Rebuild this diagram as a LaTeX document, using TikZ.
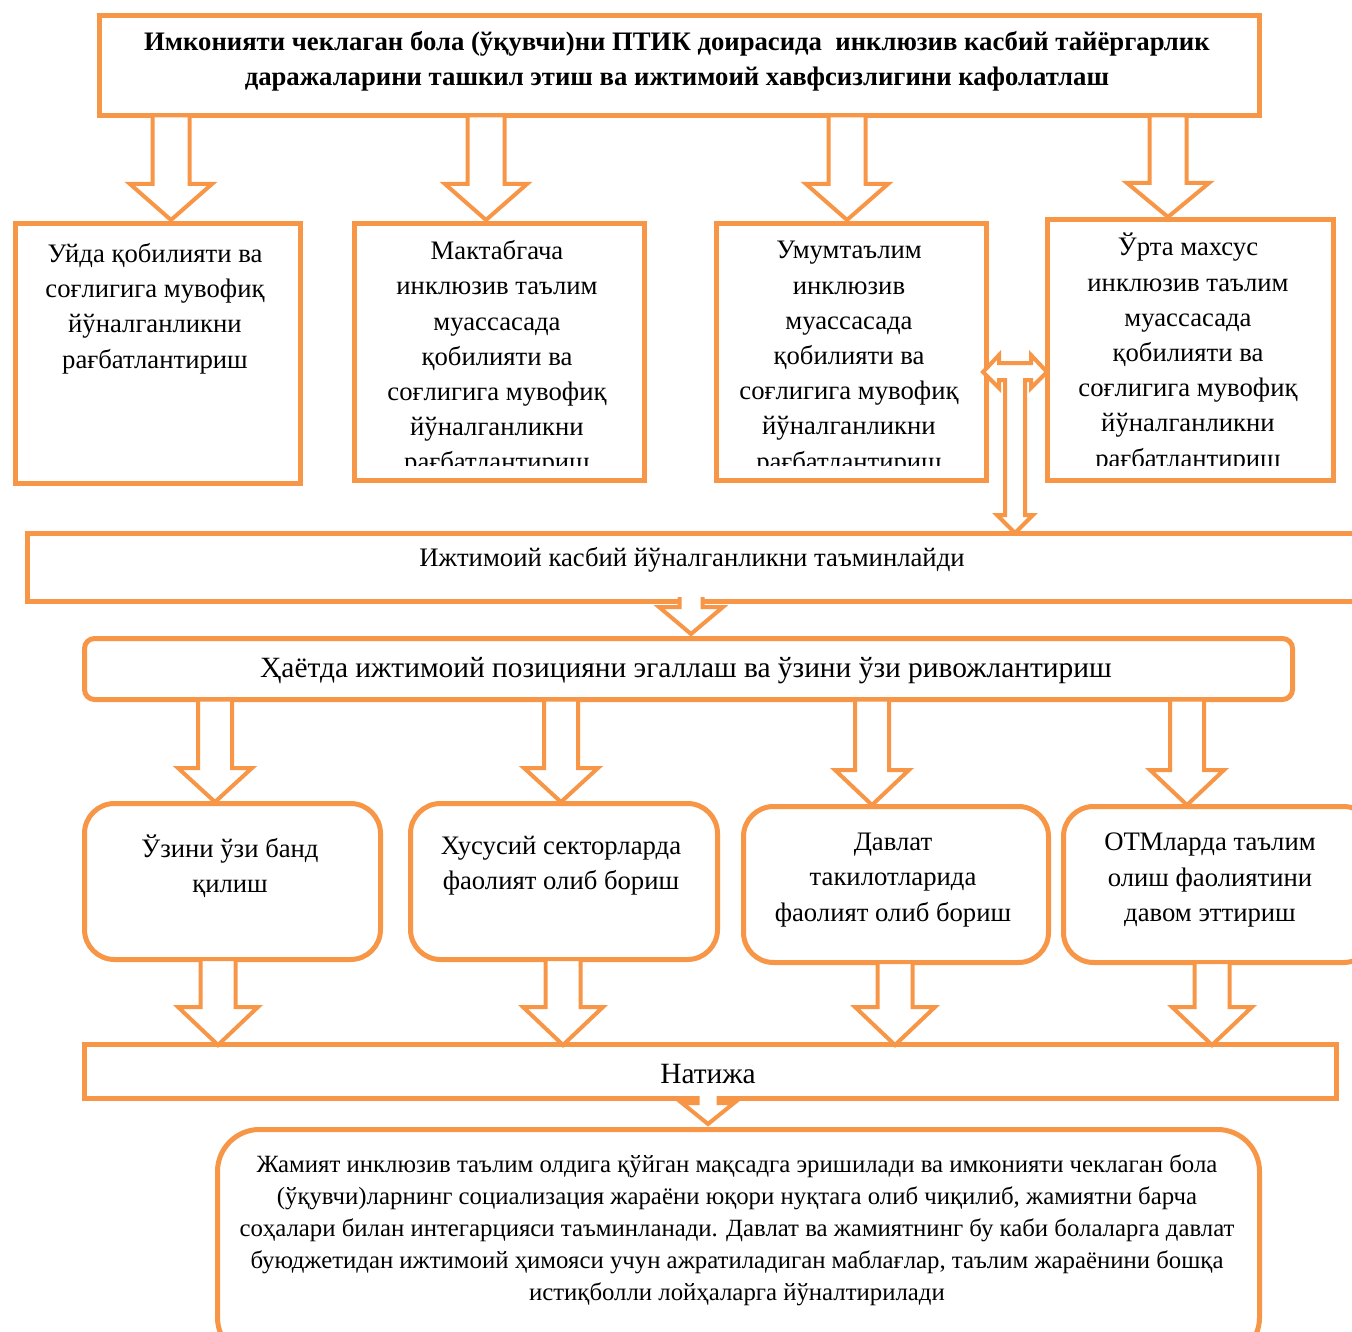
\documentclass[tikz,border=0pt]{standalone}
\usepackage{fontspec}
\setmainfont{Liberation Serif}
\definecolor{org}{HTML}{F79646}
\newcommand\dnarrow[6]{% cx, ytop, yhead, ytip, stem half, head half (closed)
  \draw[blk] (#1-#5,#2) -- (#1-#5,#3) -- (#1-#6,#3) -- (#1,#4) -- (#1+#6,#3) -- (#1+#5,#3) -- (#1+#5,#2) -- cycle;}
\newcommand\dnarrowopen[6]{% open at top, white fill cuts the border
  \fill[white] (#1-#5,#2) -- (#1-#5,#3) -- (#1-#6,#3) -- (#1,#4) -- (#1+#6,#3) -- (#1+#5,#3) -- (#1+#5,#2) -- cycle;
  \draw[blkline] (#1-#5,#2) -- (#1-#5,#3) -- (#1-#6,#3) -- (#1,#4) -- (#1+#6,#3) -- (#1+#5,#3) -- (#1+#5,#2);}
\begin{document}
\begin{tikzpicture}[x=1pt,y=-1pt,
  box/.style={draw=org, line width=5pt, fill=white, inner sep=0pt, anchor=north west},
  rbox/.style={box, rounded corners=30pt},
  blk/.style={draw=org, line width=4pt, fill=white, line join=miter},
  blkline/.style={draw=org, line width=4pt, line join=miter},
  txt/.style={align=center, inner sep=0pt, font=\fontsize{26.7}{35.2}\selectfont},
  bigtxt/.style={align=center, inner sep=0pt, font=\fontsize{29.4}{35.2}\selectfont},
  smalltxt/.style={align=center, inner sep=0pt, font=\fontsize{24.8}{32}\selectfont}]
\useasboundingbox (0,0) rectangle (1352,1332);
\clip (0,0) rectangle (1352,1332);

% top box
\node[box, minimum width=1160pt, minimum height=100pt] (top) at (97,13) {};
\node[txt, font=\fontsize{26.7}{35}\selectfont\bfseries] (toptxt) at (677,61.5)
  {Имконияти чеклаган бола (ўқувчи)ни ПТИК доирасида\ \ инклюзив касбий тайёргарлик\\даражаларини ташкил этиш ва ижтимоий хавфсизлигини кафолатлаш};

% row 1
\node[box, minimum width=285pt, minimum height=260pt] (b1) at (13,221) {};
\node[box, minimum width=290pt, minimum height=257pt] (b2) at (352,221) {};
\node[box, minimum width=270pt, minimum height=257pt] (b3) at (714,221) {};
\node[box, minimum width=286pt, minimum height=261pt] (b4) at (1045,217) {};
\node[txt] (t1) at (155,308.5) {Уйда қобилияти ва\\соғлигига мувофиқ\\йўналганликни\\рағбатлантириш};
\begin{scope}
\clip (352,221) rectangle (642,465);
\node[txt] (t2) at (497,358.5) {Мактабгача\\инклюзив таълим\\муассасада\\қобилияти ва\\соғлигига мувофиқ\\йўналганликни\\рағбатлантириш};
\end{scope}
\begin{scope}
\clip (714,221) rectangle (984,465);
\node[txt] (t3) at (849,358.5) {Умумтаълим\\инклюзив\\муассасада\\қобилияти ва\\соғлигига мувофиқ\\йўналганликни\\рағбатлантириш};
\end{scope}
\begin{scope}
\clip (1045,217) rectangle (1331,465);
\node[txt] (t4) at (1188,353) {Ўрта махсус\\инклюзив таълим\\муассасада\\қобилияти ва\\соғлигига мувофиқ\\йўналганликни\\рағбатлантириш};
\end{scope}

% bar 1
\node[box, minimum width=1340pt, minimum height=68pt] (bar1) at (25,531) {};
\node[txt] (bar1txt) at (692,560) {Ижтимоий касбий йўналганликни таъминлайди};

% bar 2
\node[rbox, rounded corners=10pt, minimum width=1208pt, minimum height=61pt] (bar2) at (82,636) {};
\node[bigtxt] (bar2txt) at (686,671) {Ҳаётда ижтимоий позицияни эгаллаш ва ўзини ўзи ривожлантириш};

% row 3
\node[rbox, minimum width=296pt, minimum height=156pt] (c1) at (82,801) {};
\node[rbox, minimum width=307pt, minimum height=156pt] (c2) at (408,801) {};
\node[rbox, minimum width=305pt, minimum height=156pt] (c3) at (741,804) {};
\node[rbox, minimum width=310pt, minimum height=156pt] (c4) at (1061,804) {};
\node[txt] (ct1) at (230,866) {Ўзини ўзи банд\\қилиш};
\node[txt] (ct2) at (561,866) {Хусусий секторларда\\фаолият олиб бориш};
\node[txt] (ct3) at (893,880) {Давлат\\такилотларида\\фаолият олиб бориш};
\node[txt] (ct4) at (1210,880) {ОТМларда таълим\\олиш фаолиятини\\давом эттириш};

% result bar
\node[box, minimum width=1252pt, minimum height=54pt] (res) at (82,1042) {};
\node[bigtxt] (restxt) at (708,1074) {Натижа};

% bottom box
\node[rbox, rounded corners=42pt, minimum width=1042pt, minimum height=230pt] (fin) at (215,1127) {};
\node[smalltxt] (fintxt) at (737,1230) {Жамият инклюзив таълим олдига қўйган мақсадга эришилади ва имконияти чеклаган бола\\(ўқувчи)ларнинг социализация жараёни юқори нуқтага олиб чиқилиб, жамиятни барча\\соҳалари билан интегарцияси таъминланади. Давлат ва жамиятнинг бу каби болаларга давлат\\буюджетидан ижтимоий ҳимояси учун ажратиладиган маблағлар, таълим жараёнини бошқа\\истиқболли лойҳаларга йўналтирилади};

% block arrows: top box -> row 1
\dnarrow{171}{115.5}{184}{220}{18.5}{41}
\dnarrow{486}{115.5}{184}{220}{18.5}{41}
\dnarrow{847}{115.5}{184}{220}{18.5}{41}
\dnarrow{1168}{115.5}{183}{217}{18.5}{41}

% T-shaped double arrow between b3/b4 and down to bar 1
\draw[blk] (983,372) -- (999,355) -- (999,363) -- (1031,363) -- (1031,355) -- (1047,372)
  -- (1031,388) -- (1031,380) -- (1025,380) -- (1025,515) -- (1033,515) -- (1015,533)
  -- (997,515) -- (1005,515) -- (1005,380) -- (999,380) -- (999,388) -- cycle;

% bar1 -> bar2
\dnarrowopen{691}{597}{607}{634}{11.5}{32}

% bar2 -> row 3
\dnarrow{215}{699.5}{768}{802}{17}{37}
\dnarrow{561}{699.5}{768}{802}{17}{37}
\dnarrow{872}{699.5}{770}{805}{17}{37}
\dnarrow{1187}{699.5}{770}{805}{17}{37}

% row 3 -> result bar
\dnarrow{218}{959}{1007}{1045}{17.5}{40}
\dnarrow{563}{959}{1007}{1045}{17.5}{40}
\dnarrow{895}{962}{1007}{1045}{17.5}{40}
\dnarrow{1212}{962}{1007}{1045}{17.5}{40}

% result -> bottom box
\dnarrowopen{708}{1096}{1103}{1124}{10.5}{26}
\end{tikzpicture}
\end{document}
